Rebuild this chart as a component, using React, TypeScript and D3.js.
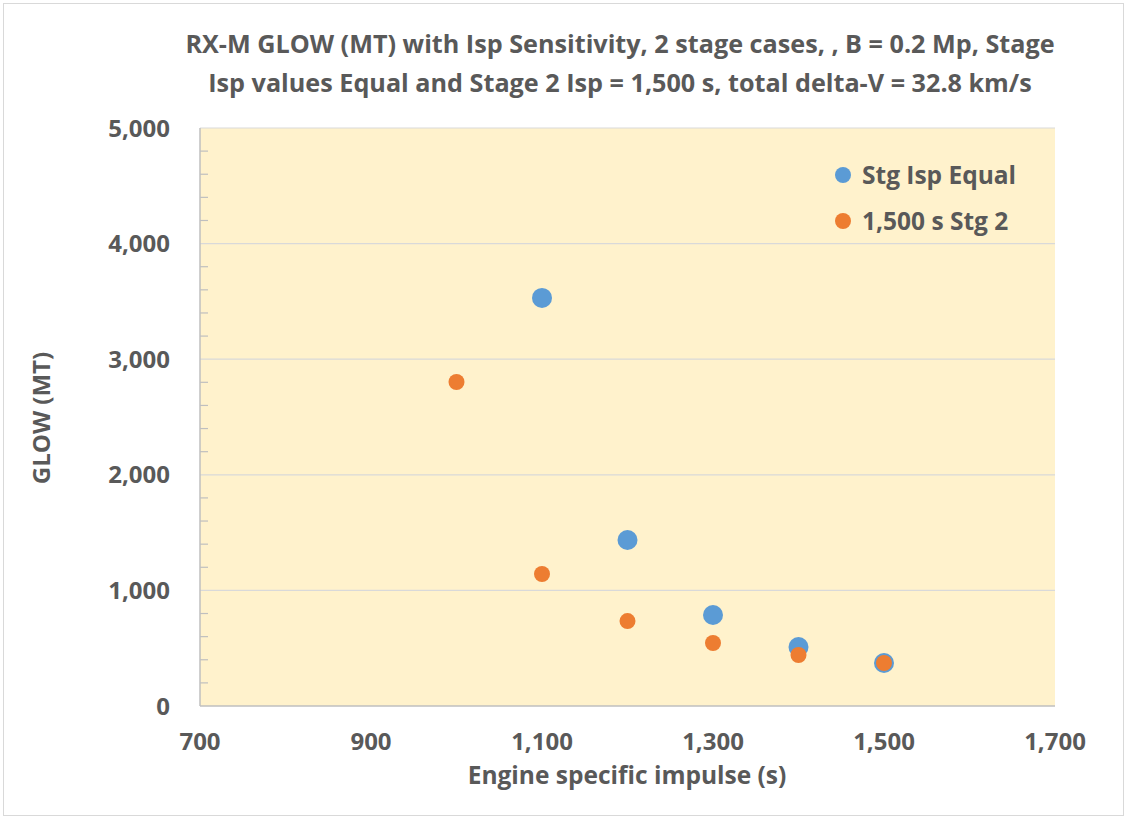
import React, { useEffect, useRef } from "react";
import * as d3 from "d3";

const W = 1127;
const H = 819;

const titleLines = [
  "RX-M GLOW (MT) with Isp Sensitivity, 2 stage cases, , B = 0.2 Mp, Stage",
  "Isp values Equal and Stage 2 Isp = 1,500 s, total delta-V = 32.8 km/s",
];
const xAxisTitle = "Engine specific impulse (s)";
const yAxisTitle = "GLOW (MT)";

const xTicks = [700, 900, 1100, 1300, 1500, 1700];
const yTicks = [0, 1000, 2000, 3000, 4000, 5000];

const seriesNames = ["Stg Isp Equal", "1,500 s Stg 2"];
const seriesColors = ["#5B9BD5", "#ED7D31"];

const equalIsp = [1100, 1200, 1300, 1400, 1500];
const equalGlow = [3530, 1436, 787, 510, 372];

const stg2Isp = [1000, 1100, 1200, 1300, 1400, 1500];
const stg2Glow = [2803, 1142, 735, 545, 441, 372];

export default function App() {
  const ref = useRef<SVGSVGElement | null>(null);

  useEffect(() => {
    const svg = d3.select(ref.current);
    svg.selectAll("*").remove();

    const left = 200, right = 1055, top = 128, bottom = 706;
    const x = d3.scaleLinear().domain([700, 1700]).range([left, right]);
    const y = d3.scaleLinear().domain([0, 5000]).range([bottom, top]);
    const font = "'Open Sans', 'DejaVu Sans', sans-serif";
    const textColor = "#595959";

    svg.append("rect").attr("x", 0).attr("y", 0).attr("width", W).attr("height", H).attr("fill", "#ffffff");
    svg.append("rect").attr("x", 3.5).attr("y", 3.5).attr("width", W - 7).attr("height", H - 7)
      .attr("fill", "none").attr("stroke", "#D9D9D9").attr("stroke-width", 1);

    // plot background
    svg.append("rect").attr("x", left).attr("y", top).attr("width", right - left).attr("height", bottom - top)
      .attr("fill", "#FFF2CC");

    // gridlines
    svg.append("g").selectAll("line").data(yTicks.filter(d => d > 0)).join("line")
      .attr("x1", left).attr("x2", right)
      .attr("y1", d => y(d)).attr("y2", d => y(d))
      .attr("stroke", "#D9D9D9").attr("stroke-width", 1.2);

    // minor ticks on y axis
    const minor = d3.range(0, 5001, 200).filter(v => v % 1000 !== 0);
    svg.append("g").selectAll("line").data(minor).join("line")
      .attr("x1", left).attr("x2", left + 8)
      .attr("y1", d => y(d)).attr("y2", d => y(d))
      .attr("stroke", "#BFBFBF").attr("stroke-width", 1.2);

    // axes lines
    svg.append("line").attr("x1", left).attr("x2", left).attr("y1", top).attr("y2", bottom)
      .attr("stroke", "#BFBFBF").attr("stroke-width", 1.5);
    svg.append("line").attr("x1", left).attr("x2", right).attr("y1", bottom).attr("y2", bottom)
      .attr("stroke", "#BFBFBF").attr("stroke-width", 1.5);

    // y tick labels
    svg.append("g").selectAll("text").data(yTicks).join("text")
      .attr("x", 170).attr("y", d => y(d)).attr("dy", "0.36em")
      .attr("text-anchor", "end").attr("font-family", font).attr("font-weight", 700)
      .attr("font-size", 24).attr("fill", textColor)
      .text(d => d3.format(",")(d));

    // x tick labels
    svg.append("g").selectAll("text").data(xTicks).join("text")
      .attr("x", d => x(d)).attr("y", 750)
      .attr("text-anchor", "middle").attr("font-family", font).attr("font-weight", 700)
      .attr("font-size", 24).attr("fill", textColor)
      .text(d => d3.format(",")(d));

    // axis titles
    svg.append("text").attr("x", 627).attr("y", 784).attr("text-anchor", "middle")
      .attr("font-family", font).attr("font-weight", 700).attr("font-size", 24.5).attr("fill", textColor)
      .text(xAxisTitle);
    svg.append("text").attr("transform", `translate(50, 418) rotate(-90)`)
      .attr("text-anchor", "middle")
      .attr("font-family", font).attr("font-weight", 700).attr("font-size", 24).attr("fill", textColor)
      .text(yAxisTitle);

    // title
    svg.append("g").selectAll("text").data(titleLines).join("text")
      .attr("x", 620).attr("y", (d, i) => 53 + i * 39).attr("text-anchor", "middle")
      .attr("font-family", font).attr("font-weight", 700).attr("font-size", 25.2).attr("fill", textColor)
      .text(d => d);

    // points
    const s2 = stg2Isp.map((v, i) => ({ x: v, y: stg2Glow[i] }));
    const s1 = equalIsp.map((v, i) => ({ x: v, y: equalGlow[i] }));
    svg.append("g").selectAll("circle").data(s1).join("circle")
      .attr("cx", d => x(d.x)).attr("cy", d => y(d.y)).attr("r", 10)
      .attr("fill", seriesColors[0]);
    svg.append("g").selectAll("circle").data(s2).join("circle")
      .attr("cx", d => x(d.x)).attr("cy", d => y(d.y)).attr("r", 8)
      .attr("fill", seriesColors[1]);

    // legend
    const lg = svg.append("g");
    seriesNames.forEach((name, i) => {
      const ly = 175 + i * 46;
      lg.append("circle").attr("cx", 843).attr("cy", ly).attr("r", 8).attr("fill", seriesColors[i]);
      lg.append("text").attr("x", 862).attr("y", ly).attr("dy", "0.36em")
        .attr("font-family", font).attr("font-weight", 700).attr("font-size", 24.5).attr("fill", textColor)
        .text(name);
    });
  }, []);

  return (
    <div style={{ position: "absolute", left: 0, top: 0 }}>
      <svg ref={ref} width={W} height={H} />
    </div>
  );
}
